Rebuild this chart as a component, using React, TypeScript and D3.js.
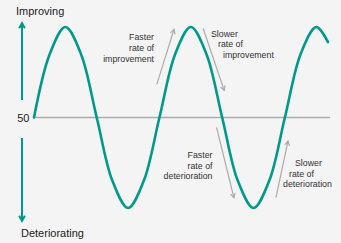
import React from 'react';
import * as d3 from 'd3';

// cycle position (eighths of a period) and index level
const steps = [0, 1, 2, 3, 4, 5, 6, 7, 8, 9, 10, 11, 12, 13, 14, 15, 16, 17, 18, 18.75];
const levels = [50, 71, 80, 71, 50, 29, 20, 29, 50, 71, 80, 71, 50, 29, 20, 29, 50, 71, 80, 75];

const baseline = 50;
const axisTop = 'Improving';
const axisBottom = 'Deteriorating';

// annotation arrows: [fromStep, fromLevel, toStep, toLevel]
const notes = [
    { lines: ['Faster', 'rate of', 'improvement'], arrow: [7.83, 61, 8.93, 79.2], anchor: 'end', tx: [154, 154, 154], ty: [39.5, 50.5, 61.5] },
    { lines: ['Slower', 'rate of', 'improvement'], arrow: [10.79, 79.5, 12.13, 59], anchor: 'start', tx: [211, 218, 223], ty: [36.5, 47, 57.5] },
    { lines: ['Faster', 'rate of', 'deterioration'], arrow: [11.64, 46.7, 12.75, 23.4], anchor: 'end', tx: [212.5, 212.5, 212.5], ty: [158, 168.5, 179] },
    { lines: ['Slower', 'rate of', 'deterioration'], arrow: [15.43, 23.4, 16.2, 42.2], anchor: 'start', tx: [295, 289, 283], ty: [166, 176.5, 187] },
];

const W = 341;
const H = 243;
const teal = '#009a8c';
const grey = '#ababab';
const font = '"Liberation Sans", Arial, sans-serif';

function head(x1: number, y1: number, x2: number, y2: number, size: number) {
    const a = Math.atan2(y2 - y1, x2 - x1);
    const s = 0.5;
    return `M${x2 - size * Math.cos(a - s)},${y2 - size * Math.sin(a - s)}L${x2},${y2}L${x2 - size * Math.cos(a + s)},${y2 - size * Math.sin(a + s)}`;
}

const App: React.FC = () => {
    const x = d3.scaleLinear().domain([0, 18.75]).range([34, 328]);
    const y = d3.scaleLinear().domain([20, 80]).range([208, 27]);

    const line = d3.line<number>()
        .x((_, i) => x(steps[i]))
        .y(d => y(d))
        .curve(d3.curveCatmullRom.alpha(0.5));

    const y0 = y(baseline);

    return (
        <svg width={W} height={H} style={{ position: 'absolute', left: 0, top: 0, background: '#f4f4f4' }}>
            <line x1={x(0) - 1} x2={330} y1={y0} y2={y0} stroke={grey} strokeWidth={1.5} />
            <text x={29.5} y={y0 + 4} textAnchor="end" fontSize={11} fontFamily={font} fill="#222">{baseline}</text>

            <line x1={22} x2={22} y1={100} y2={23} stroke={teal} strokeWidth={2} />
            <path d={head(22, 100, 22, 23, 6)} fill="none" stroke={teal} strokeWidth={2} />
            <line x1={22} x2={22} y1={138} y2={221} stroke={teal} strokeWidth={2} />
            <path d={head(22, 138, 22, 221, 6)} fill="none" stroke={teal} strokeWidth={2} />
            <text x={16} y={15} fontSize={11} fontFamily={font} fill="#222">{axisTop}</text>
            <text x={21} y={237} fontSize={11} fontFamily={font} fill="#222">{axisBottom}</text>

            <path d={line(levels) || ''} fill="none" stroke={teal} strokeWidth={2.6} strokeLinecap="round" />

            {notes.map((n, i) => {
                const [a, b, c, d] = n.arrow;
                const x1 = x(a), y1 = y(b), x2 = x(c), y2 = y(d);
                return (
                    <g key={i}>
                        <line x1={x1} y1={y1} x2={x2} y2={y2} stroke={grey} strokeWidth={1.2} />
                        <path d={head(x1, y1, x2, y2, 5)} fill="none" stroke={grey} strokeWidth={1.2} />
                        {n.lines.map((t, j) => (
                            <text key={j} x={n.tx[j]} y={n.ty[j]} textAnchor={n.anchor as any} fontSize={8.8} fontFamily={font} fill="#333">{t}</text>
                        ))}
                    </g>
                );
            })}
        </svg>
    );
};

export default App;
